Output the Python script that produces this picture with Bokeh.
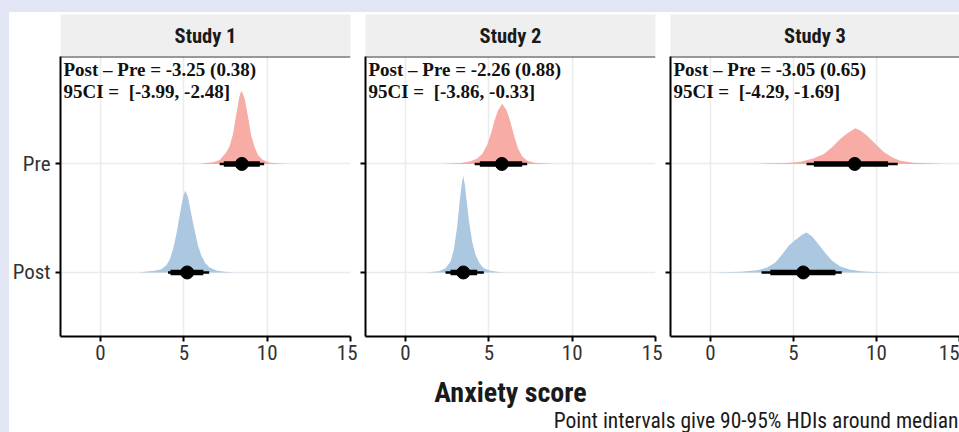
from bokeh.plotting import figure
from bokeh.layouts import row, column
from bokeh.models import FixedTicker, Range1d, Spacer, Span
from bokeh.embed import file_html
from bokeh.resources import INLINE
from bokeh.core.properties import value

# ---------------- data ----------------
studies = ["Study 1", "Study 2", "Study 3"]
diff_text = ["Post \u2013 Pre = -3.25 (0.38)", "Post \u2013 Pre = -2.26 (0.88)", "Post \u2013 Pre = -3.05 (0.65)"]
ci_text = ["95CI = \u00a0[-3.99, -2.48]", "95CI = \u00a0[-3.86, -0.33]", "95CI = \u00a0[-4.29, -1.69]"]
conditions = ["Post", "Pre"]          # y = 1, 2
cond_pos = [1, 2]
x_ticks = [0, 5, 10, 15]

# posterior density outlines (x, height in category units)
pre_x = [
    [5.9, 6.75, 7.15, 7.55, 7.75, 7.95, 8.15, 8.31, 8.38, 8.45, 8.52, 8.65, 8.85, 9.05, 9.25, 9.45, 9.75, 10.15, 10.75, 11.3],
    [2.3, 2.7, 3.3, 3.9, 4.3, 4.6, 4.9, 5.14, 5.34, 5.54, 5.8, 6.06, 6.26, 6.5, 6.74, 7.0, 7.3, 7.8, 8.5, 8.9],
    [2.8, 3.43, 4.63, 5.43, 6.23, 6.83, 7.33, 7.83, 8.27, 8.73, 9.03, 9.43, 9.93, 10.43, 10.93, 11.43, 12.23, 13.43, 14.2],
]
pre_h = [
    [0, .016, .037, .108, .166, .277, .461, .600, .645, .673, .655, .600, .434, .258, .157, .083, .037, .012, .003, 0],
    [0, .003, .009, .025, .049, .092, .175, .286, .397, .489, .554, .498, .406, .268, .148, .071, .030, .009, .003, 0],
    [0, .003, .009, .021, .053, .092, .154, .231, .286, .329, .307, .261, .185, .113, .062, .030, .012, .003, 0],
]
post_x = [
    [2.3, 2.65, 3.25, 3.65, 3.95, 4.15, 4.35, 4.55, 4.75, 4.95, 5.09, 5.25, 5.45, 5.65, 5.85, 6.05, 6.29, 6.55, 6.95, 7.45, 8.05],
    [1.0, 1.4, 2.0, 2.4, 2.7, 2.9, 3.1, 3.26, 3.36, 3.46, 3.56, 3.64, 3.8, 4.0, 4.2, 4.44, 4.7, 5.1, 5.6, 6.0],
    [0.2, 0.63, 1.83, 2.83, 3.43, 3.93, 4.33, 4.73, 5.13, 5.53, 5.79, 6.13, 6.53, 6.93, 7.33, 7.83, 8.43, 9.23, 10.23, 10.8],
]
post_h = [
    [0, .006, .016, .030, .067, .117, .212, .351, .526, .692, .756, .692, .535, .387, .249, .157, .086, .046, .018, .006, 0],
    [0, .003, .012, .040, .101, .209, .424, .671, .800, .892, .810, .701, .486, .286, .163, .086, .040, .016, .005, 0],
    [0, .002, .006, .021, .046, .095, .169, .249, .302, .348, .369, .332, .256, .178, .108, .055, .025, .009, .003, 0],
]

# point intervals: median, 90% (thick), 95% (thin)
pre_median = [8.48, 5.78, 8.69]
pre_lo90 = [7.40, 4.46, 6.23]
pre_hi90 = [9.56, 7.00, 10.70]
pre_lo95 = [7.15, 4.15, 5.79]
pre_hi95 = [9.82, 7.30, 11.28]
post_median = [5.20, 3.47, 5.59]
post_lo90 = [4.20, 2.70, 3.61]
post_hi90 = [6.17, 4.30, 7.53]
post_lo95 = [4.05, 2.40, 3.08]
post_hi95 = [6.52, 4.70, 7.91]

x_title = "Anxiety score"
caption = "Point intervals give 90-95% HDIs around median"

# ---------------- style ----------------
BG_OUT = "#e2e6f4"
PRE_COL = "#f8aca6"
POST_COL = "#abc8e0"
GRID = "#ebebeb"
SANS = "Roboto Condensed, Roboto"
SERIF = "Liberation Serif"
X0, X1 = -2.4, 15
Y0, Y1 = 0.41, 2.99

widths = [348, 305, 297]
lefts = [51, 8, 8]
rights = [7, 7, 0]

strips = []
panels = []
for i in range(3):
    s = figure(width=widths[i], height=44, x_range=Range1d(0, 1), y_range=Range1d(0, 1),
               min_border_left=lefts[i], min_border_right=rights[i], min_border_top=2, min_border_bottom=0,
               toolbar_location=None, output_backend="svg")
    s.axis.visible = False
    s.grid.visible = False
    s.outline_line_color = None
    s.background_fill_color = "#efefef"
    s.border_fill_color = "white"
    s.text(x=[0.5], y=[0.5], text=[studies[i]], text_align="center", text_baseline="middle",
           text_font=value(SANS), text_font_style="bold", text_font_size="20.5px", text_color="#1a1a1a")
    strips.append(s)

    p = figure(width=widths[i], height=314, x_range=Range1d(X0, X1), y_range=Range1d(Y0, Y1),
               min_border_left=lefts[i], min_border_right=rights[i], min_border_top=0, min_border_bottom=34,
               toolbar_location=None, output_backend="svg")
    p.background_fill_color = "white"
    p.border_fill_color = "white"
    p.outline_line_color = None

    p.xaxis.ticker = FixedTicker(ticks=x_ticks)
    p.yaxis.ticker = FixedTicker(ticks=cond_pos)
    if i == 0:
        p.yaxis.major_label_overrides = {1: conditions[0], 2: conditions[1]}
    else:
        p.yaxis.major_label_overrides = {1: "", 2: ""}
        p.yaxis.major_label_text_font_size = "1px"
        p.yaxis.major_label_standoff = 0
    p.xgrid.ticker = FixedTicker(ticks=x_ticks)
    p.ygrid.ticker = FixedTicker(ticks=cond_pos)
    p.grid.grid_line_color = GRID
    p.grid.grid_line_width = 1.5

    for ax in (p.xaxis, p.yaxis):
        ax.axis_line_color = "black"
        ax.axis_line_width = 2
        ax.major_tick_line_color = "black"
        ax.major_tick_line_width = 2
        ax.major_tick_out = 5
        ax.major_tick_in = 0
        ax.minor_tick_line_color = None
        ax.major_label_text_color = "#333333"
    p.xaxis.major_label_text_font = SANS
    p.xaxis.major_label_text_font_size = "21px"
    p.xaxis.major_label_standoff = 3
    if i == 0:
        p.yaxis.major_label_text_font = SANS
        p.yaxis.major_label_text_font_size = "21px"
        p.yaxis.major_label_standoff = 5

    # densities
    p.varea(x=pre_x[i], y1=[cond_pos[1]] * len(pre_x[i]), y2=[cond_pos[1] + h for h in pre_h[i]],
            fill_color=PRE_COL)
    p.varea(x=post_x[i], y1=[cond_pos[0]] * len(post_x[i]), y2=[cond_pos[0] + h for h in post_h[i]],
            fill_color=POST_COL)

    # point intervals
    p.segment(x0=[pre_lo95[i], post_lo95[i]], x1=[pre_hi95[i], post_hi95[i]],
              y0=[cond_pos[1], cond_pos[0]], y1=[cond_pos[1], cond_pos[0]], line_color="black", line_width=2.5)
    p.segment(x0=[pre_lo90[i], post_lo90[i]], x1=[pre_hi90[i], post_hi90[i]],
              y0=[cond_pos[1], cond_pos[0]], y1=[cond_pos[1], cond_pos[0]], line_color="black", line_width=5.5)
    p.scatter(x=[pre_median[i], post_median[i]], y=[cond_pos[1], cond_pos[0]], size=13,
              fill_color="black", line_color="black")

    # top border
    p.add_layout(Span(location=Y1, dimension="width", line_color="#333333", line_width=2))

    # annotation
    p.text(x=[X0], y=[Y1 - 2.0 / 108.5], text=[diff_text[i]], x_offset=3, text_baseline="top", text_align="left",
           text_font=value(SERIF), text_font_style="bold", text_font_size="19px", text_color="#111111")
    p.text(x=[X0], y=[Y1 - 24.5 / 108.5], text=[ci_text[i]], x_offset=3, text_baseline="top", text_align="left",
           text_font=value(SERIF), text_font_style="bold", text_font_size="19px", text_color="#111111")
    panels.append(p)

bottom = figure(width=950, height=62, x_range=Range1d(0, 950), y_range=Range1d(0, 62),
                min_border=0, toolbar_location=None, output_backend="svg")
bottom.axis.visible = False
bottom.grid.visible = False
bottom.outline_line_color = None
bottom.background_fill_color = "white"
bottom.border_fill_color = "white"
bottom.text(x=[501], y=[40], text=[x_title], text_align="center", text_baseline="middle",
            text_font=value(SANS), text_font_style="bold", text_font_size="28px", text_color="#1a1a1a")
bottom.text(x=[949], y=[12], text=[caption], text_align="right", text_baseline="middle",
            text_font=value(SANS), text_font_size="21.5px", text_color="#1a1a1a")

top_sp = Spacer(width=959, height=12, styles={"background-color": BG_OUT})
left_sp = Spacer(width=9, height=420, styles={"background-color": BG_OUT})
content = column(row(*strips, spacing=0), row(*panels, spacing=0), bottom, spacing=0)
root = column(top_sp, row(left_sp, content, spacing=0), spacing=0)

open("out.html", "w").write(file_html(root, INLINE))
